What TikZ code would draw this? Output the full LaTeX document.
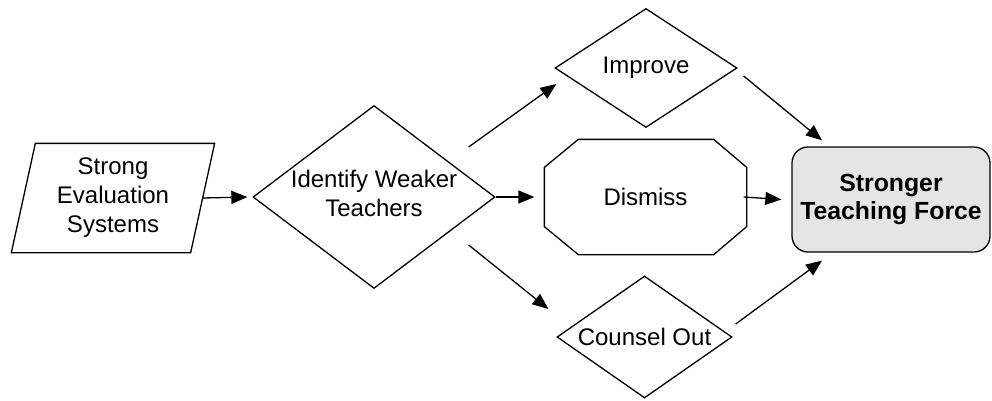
\documentclass[tikz,border=0pt]{standalone}
\usepackage{fontspec}
\setmainfont{Liberation Sans}
\usetikzlibrary{shapes.geometric,arrows.meta,calc}
\begin{document}
\begin{tikzpicture}[x=1pt,y=-1pt,
  line width=1.3pt,
  txt/.style={font=\fontsize{24}{29}\selectfont, align=center},
  btxt/.style={font=\fontsize{24.8}{28}\selectfont\bfseries, align=center},
  dia/.style={diamond, draw, inner sep=0pt},
  arr/.style={-{Triangle[length=16pt,width=13pt]}}]
\useasboundingbox (0,0) rectangle (992,400);

% Strong Evaluation Systems (parallelogram)
\node[minimum width=178pt, minimum height=108pt, inner sep=0pt, txt] (strong) at (113,198) {Strong\\Evaluation\\Systems};
\draw ([xshift=12pt]strong.north west) -- ([xshift=12pt]strong.north east)
   -- ([xshift=-12pt]strong.south east) -- ([xshift=-12pt]strong.south west) -- cycle;

% Identify Weaker Teachers
\node[dia, minimum width=242pt, minimum height=183pt, label={[txt,yshift=4pt]center:Identify Weaker\\Teachers}] (id) at (374,197) {};

% Improve
\node[dia, minimum width=182pt, minimum height=119pt, label={[txt]center:Improve}] (improve) at (646,68) {};

% Counsel Out
\node[dia, minimum width=175pt, minimum height=122pt, label={[txt]center:Counsel Out}] (counsel) at (644.5,337) {};

% Dismiss (octagon)
\node[minimum width=201pt, minimum height=114pt, inner sep=0pt, txt] (dismiss) at (645.5,197) {Dismiss};
\draw ([xshift=34pt]dismiss.north west) -- ([xshift=-33pt]dismiss.north east)
  -- ([yshift=-28pt]dismiss.north east) -- ([yshift=28pt]dismiss.south east)
  -- ([xshift=-33pt]dismiss.south east) -- ([xshift=34pt]dismiss.south west)
  -- ([yshift=28pt]dismiss.south west) -- ([yshift=-28pt]dismiss.north west) -- cycle;

% Stronger Teaching Force
\node[draw, rounded corners=16pt, fill=black!10, minimum width=198pt, minimum height=105pt, inner sep=0pt, btxt] (force) at (891,199.5) {Stronger\\Teaching Force};

% Connectors
\draw[arr] (strong.east) -- ([xshift=-5pt]id.west);
\draw[arr] (id.east) -- ([xshift=-10pt]dismiss.west);
\draw[arr] ($(id.east)+(-27,-50)$) -- ($(improve.west)+(2,16)$);
\draw[arr] ($(id.east)+(-27,48)$) -- ($(counsel.west)+(-8,-28)$);
\draw[arr] ($(dismiss.east)+(-3,0)$) -- ([xshift=-10pt]force.west);
\draw[arr] ($(improve.east)+(6,8)$) -- ($(force.north)+(-69,-6)$);
\draw[arr] ($(counsel.east)+(3,-13)$) -- ($(force.south)+(-69,8)$);
\end{tikzpicture}
\end{document}
